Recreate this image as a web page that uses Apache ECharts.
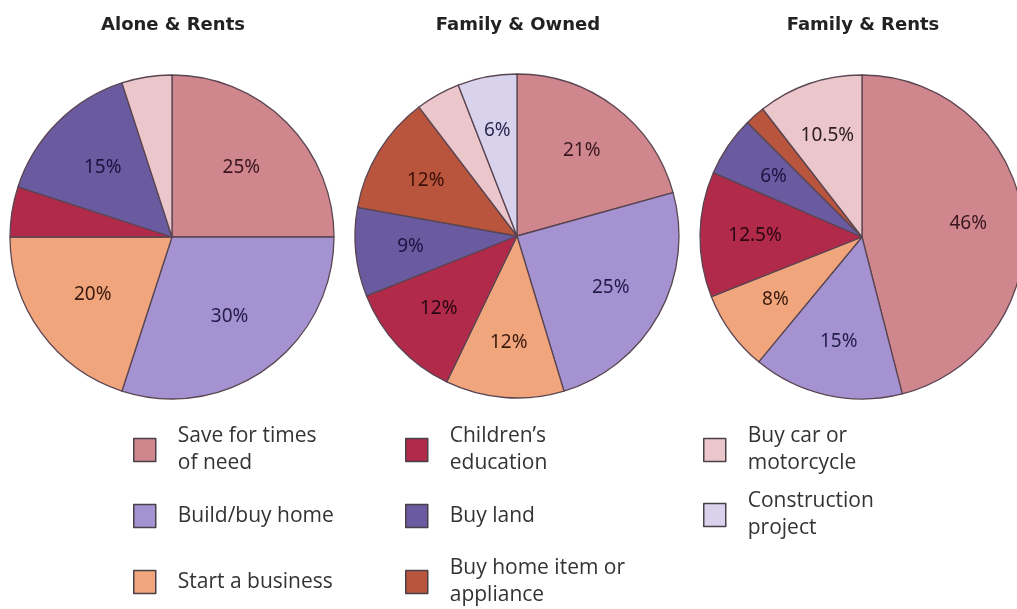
<!DOCTYPE html>
<html>
<head>
<meta charset="utf-8">
<script src="https://cdn.jsdelivr.net/npm/echarts@6/dist/echarts.min.js"></script>
<style>
html,body{margin:0;padding:0;background:#fff;}
#chart{width:1017px;height:609px;}
</style>
</head>
<body>
<div id="chart"></div>
<script>
// ---- data ----
const categories = ['Save for times of need', 'Build/buy home', 'Start a business', 'Children\u2019s education', 'Buy land', 'Buy home item or appliance', 'Buy car or motorcycle', 'Construction project'];
const legendLabels = ['Save for times\nof need', 'Build/buy home', 'Start a business', 'Children\u2019s\neducation', 'Buy land', 'Buy home item or\nappliance', 'Buy car or\nmotorcycle', 'Construction\nproject'];
const pieTitles = ['Alone & Rents', 'Family & Owned', 'Family & Rents'];
const aloneRents   = [25, 30, 20, 5, 15, null, 5, null];
const familyOwned  = [21, 25, 12, 12, 9, 12, 4.5, 6];
const familyRents  = [46, 15, 8, 12.5, 6, 2, 10.5, null];
// printed labels (null = no label shown)
const aloneRentsLabels  = ['25%', '30%', '20%', null, '15%', null, null, null];
const familyOwnedLabels = ['21%', '25%', '12%', '12%', '9%', '12%', null, '6%'];
const familyRentsLabels = ['46%', '15%', '8%', '12.5%', '6%', null, '10.5%', null];

// ---- styles ----
const colors = ['#cf868c', '#a592d0', '#f0a57c', '#b22a4a', '#6a5aa0', '#b9553c', '#ebc6ca', '#d8d2ec'];
const labelColors = ['#3a1622', '#221c4a', '#3a1a0c', '#2a0612', '#1a1440', '#3a1008', '#2a1c20', '#2a2a50'];

const centers = [[172, 237], [517, 236], [862, 237]];
const radius = 162;
const labelRadius = [95, 104, 104];

function buildData(values, labels, withLabel) {
  const out = [];
  values.forEach((v, i) => {
    if (v === null) return;
    out.push({
      name: categories[i],
      value: v,
      itemStyle: { color: withLabel ? 'rgba(0,0,0,0)' : colors[i] },
      label: withLabel && labels[i] ? { show: true, formatter: labels[i], color: labelColors[i] } : { show: false }
    });
  });
  return out;
}

const allValues = [aloneRents, familyOwned, familyRents];
const allLabels = [aloneRentsLabels, familyOwnedLabels, familyRentsLabels];

const series = [];
allValues.forEach((vals, k) => {
  series.push({
    type: 'pie',
    center: centers[k],
    radius: [0, radius],
    startAngle: 90,
    clockwise: true,
    animation: false,
    label: { show: false },
    labelLine: { show: false },
    emphasis: { disabled: true },
    itemStyle: { borderColor: '#5a4552', borderWidth: 1.3 },
    data: buildData(vals, allLabels[k], false)
  });
  series.push({
    type: 'pie',
    center: centers[k],
    radius: [0, labelRadius[k] * 2],
    startAngle: 90,
    clockwise: true,
    animation: false,
    silent: true,
    z: 5,
    labelLine: { show: false },
    emphasis: { disabled: true },
    itemStyle: { borderWidth: 0 },
    label: { show: true, position: 'inside', fontFamily: 'Noto Sans', fontSize: 19, letterSpacing: -1.2 },
    data: buildData(vals, allLabels[k], true)
  });
});

const legendPos = [
  [133, 450], [133, 516], [133, 582],
  [405, 450], [405, 516], [405, 582],
  [703, 450], [703, 515]
];
const legends = categories.map((name, i) => {
  const twoLine = legendLabels[i].indexOf('\n') >= 0;
  const c = legendPos[i][1];
  return {
    data: [name],
    left: legendPos[i][0],
    top: twoLine ? c - 27 : c - 13.5,
    orient: 'vertical',
    icon: 'rect',
    itemWidth: 22,
    itemHeight: 23,
    selectedMode: false,
    padding: 0,
    formatter: () => legendLabels[i],
    itemStyle: { color: colors[i], borderColor: '#4a4048', borderWidth: 1.5 },
    textStyle: { fontFamily: 'Open Sans', fontSize: 21, lineHeight: 27, letterSpacing: 0.3, color: '#333', padding: [0, 0, 0, 17] }
  };
});

const titles = pieTitles.map((t, k) => ({
  text: t,
  left: centers[k][0] - 4,
  top: 11,
  textAlign: 'center',
  textStyle: { fontFamily: 'DejaVu Sans', fontWeight: 'bold', fontSize: 18, letterSpacing: 0.8, color: '#222' }
}));

const chart = echarts.init(document.getElementById('chart'));
chart.setOption({
  backgroundColor: '#ffffff',
  animation: false,
  color: colors,
  title: titles,
  legend: legends,
  series: series
});
</script>
</body>
</html>
